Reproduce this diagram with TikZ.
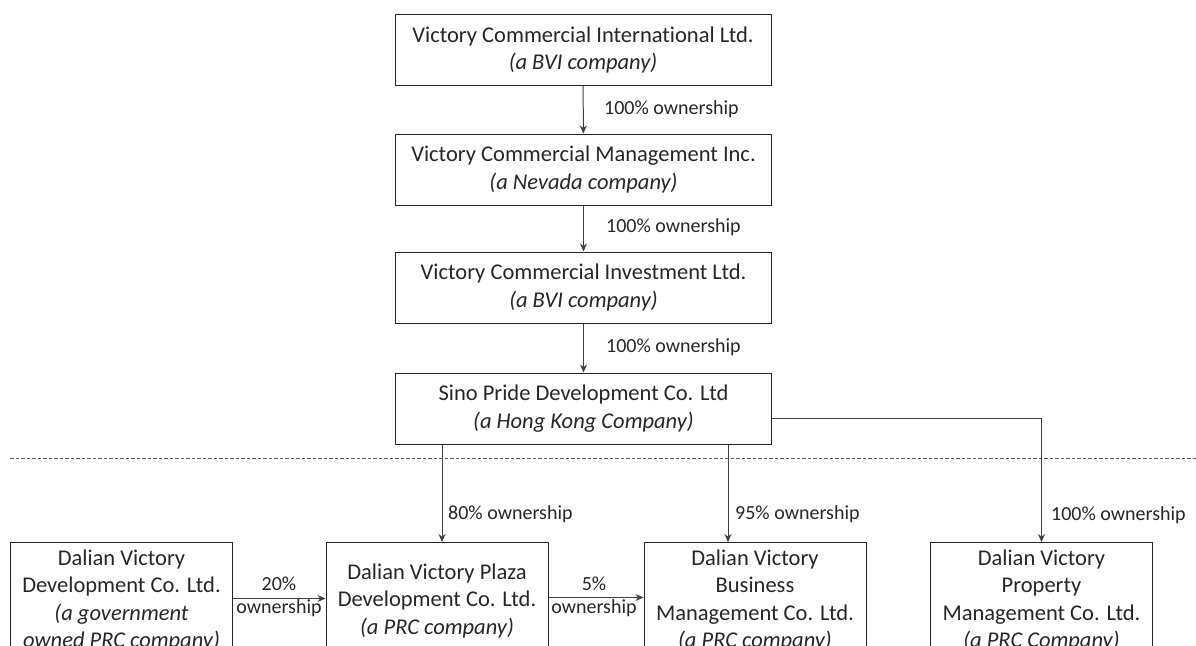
\documentclass[tikz,border=0pt]{standalone}
\usepackage{fontspec}
\setmainfont[Ligatures=NoCommon]{Carlito}
\usetikzlibrary{arrows.meta}
\begin{document}
\begin{tikzpicture}[x=1pt,y=-1pt,
  box/.style={draw=black!85, line width=1pt, rectangle, inner sep=0pt, align=center,
    font=\fontsize{22.5}{27.5}\selectfont, text=black!85},
  topbox/.style={box, minimum width=376pt, minimum height=71pt},
  botbox/.style={box, minimum width=222pt, minimum height=116pt, anchor=north},
  lbl/.style={font=\fontsize{20}{23}\selectfont, text=black!85, inner sep=0pt, anchor=west},
  hlbl/.style={lbl, anchor=center, align=center},
  conn/.style={draw=black!75, line width=1pt, -{Stealth[length=8pt,width=7pt]}},
  sep/.style={draw=black!65, line width=0.9pt, dash pattern=on 3.5pt off 2pt},
]
\useasboundingbox (0,0) rectangle (1196,645);
\clip (0,0) rectangle (1196,645);
\node[topbox] (vci) at (583,50) {Victory Commercial International Ltd.\\ \textit{(a BVI company)}};
\node[topbox] (vcm) at (583.5,169.5) {Victory Commercial Management Inc.\\ \textit{(a Nevada company)}};
\node[topbox] (vcinv) at (583.5,287.5) {Victory Commercial Investment Ltd.\\ \textit{(a BVI company)}};
\node[topbox] (sino) at (583.5,408.5) {Sino Pride Development Co. Ltd\\ \textit{(a Hong Kong Company)}};

\node[botbox] (dvd) at (121.5,542) {Dalian Victory\\ Development Co. Ltd.\\ \textit{(a government}\\ \textit{owned PRC company)}};
\node[botbox] (dvp) at (437,542) {Dalian Victory Plaza\\ Development Co. Ltd.\\ \textit{(a PRC company)}};
\node[botbox] (dvb) at (755,542) {Dalian Victory\\ Business\\ Management Co. Ltd.\\ \textit{(a PRC company)}};
\node[botbox] (dvpm) at (1041.5,542) {Dalian Victory\\ Property\\ Management Co. Ltd.\\ \textit{(a PRC Company)}};

\draw[sep] (10,458) -- (1196,458);

\draw[conn] (vci) -- (vcm);
\draw[conn] (vcm) -- (vcinv);
\draw[conn] (vcinv) -- (sino);
\draw[conn] ([xshift=5pt]dvp.north |- sino.south) -- ([xshift=5pt]dvp.north);
\draw[conn] ([xshift=-27pt]dvb.north |- sino.south) -- ([xshift=-27pt]dvb.north);
\draw[conn] ([yshift=-9.5pt]sino.east) -| (dvpm.north);
\draw[conn] ([yshift=2pt]dvd.east) -- ([yshift=2pt]dvp.west);
\draw[conn] ([yshift=3pt]dvp.east) -- ([yshift=3pt]dvb.west);

\node[lbl] (l1) at (604,109) {100\% ownership};
\node[lbl] (l2) at (606,227) {100\% ownership};
\node[lbl] (l3) at (606,347) {100\% ownership};
\node[lbl] (l4) at (448,514) {80\% ownership};
\node[lbl] (l5) at (735,514) {95\% ownership};
\node[lbl] (l6) at (1051,515) {100\% ownership};
\node[hlbl] (l7) at (279,597) {20\%\\ ownership};
\node[hlbl] (l8) at (594,597) {5\%\\ ownership};
\end{tikzpicture}
\end{document}
